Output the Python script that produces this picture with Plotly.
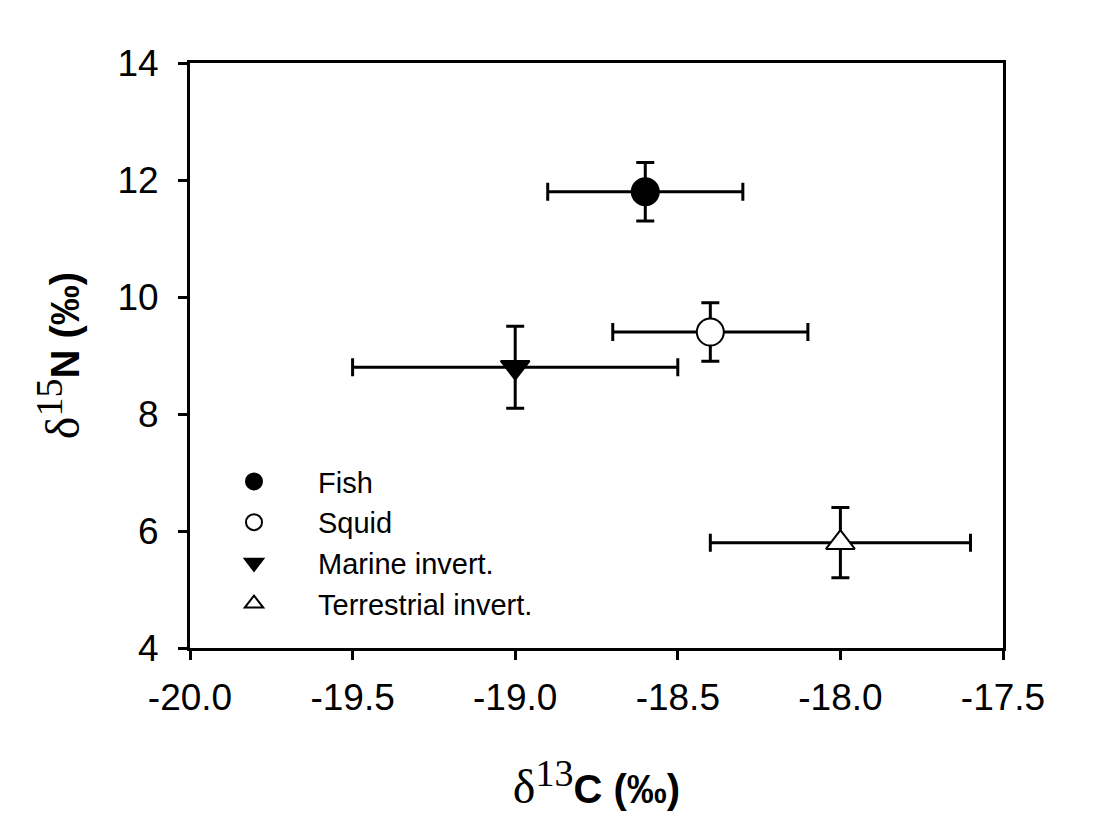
import plotly.graph_objects as go

# Data
groups = ["Fish", "Squid", "Marine invert.", "Terrestrial invert."]
d13c = [-18.6, -18.4, -19.0, -18.0]
d13c_sd = [0.3, 0.3, 0.5, 0.4]
d15n = [11.8, 9.4, 8.8, 5.8]
d15n_sd = [0.5, 0.5, 0.7, 0.6]
symbols = ["circle", "circle", "triangle-down", "triangle-up"]
fills = ["black", "white", "black", "white"]
sizes = [27, 27, 25, 25]

x_ticks = [-20.0, -19.5, -19.0, -18.5, -18.0, -17.5]
x_ticklabels = ["-20.0", "-19.5", "-19.0", "-18.5", "-18.0", "-17.5"]
y_ticks = [4, 6, 8, 10, 12, 14]

SANS = "Liberation Sans, Arial, sans-serif"


def iso_title(mass, elem):
    return ("<span style='font-family:Liberation Serif; font-weight:normal; font-size:48px'>δ</span>"
            "<sup><span style='font-family:Liberation Serif; font-weight:normal; font-size:38px'>"
            + mass + "</span></sup><b>" + elem + " (‰)</b>")


fig = go.Figure()
for i, g in enumerate(groups):
    fig.add_trace(go.Scatter(
        x=[d13c[i]], y=[d15n[i]], name=g, mode="markers",
        marker=dict(symbol=symbols[i], size=sizes[i], color=fills[i],
                    line=dict(color="black", width=2)),
        error_x=dict(type="data", array=[d13c_sd[i]], color="black",
                     thickness=3, width=9),
        error_y=dict(type="data", array=[d15n_sd[i]], color="black",
                     thickness=3, width=9),
    ))

fig.update_layout(
    width=1089, height=830,
    margin=dict(l=182, r=94, t=55, b=190),
    paper_bgcolor="white", plot_bgcolor="white",
    font=dict(family=SANS, color="black"),
    showlegend=True,
    legend=dict(
        x=0.0, y=0.328, xanchor="left", yanchor="top",
        font=dict(family=SANS, size=29, color="black"),
        bgcolor="rgba(0,0,0,0)", borderwidth=0,
        itemwidth=118, tracegroupgap=0,
    ),
    xaxis=dict(
        range=[-20.0, -17.5], tickvals=x_ticks, ticktext=x_ticklabels,
        ticks="outside", ticklen=9, tickwidth=3, tickcolor="black",
        showline=True, linewidth=3, linecolor="black", mirror=True,
        showgrid=False, zeroline=False,
        tickfont=dict(family=SANS, size=37, color="black"),
        ticklabelstandoff=6,
        title=dict(text=iso_title("13", "C"),
                   font=dict(family=SANS, size=40, color="black"), standoff=58),
    ),
    yaxis=dict(
        range=[4, 14], tickvals=y_ticks,
        ticks="outside", ticklen=9, tickwidth=3, tickcolor="black",
        showline=True, linewidth=3, linecolor="black", mirror=True,
        showgrid=False, zeroline=False,
        tickfont=dict(family=SANS, size=37, color="black"),
        ticklabelstandoff=12,
        title=dict(text=iso_title("15", "N"),
                   font=dict(family=SANS, size=40, color="black"), standoff=26),
    ),
)

fig.write_html("out.html")
